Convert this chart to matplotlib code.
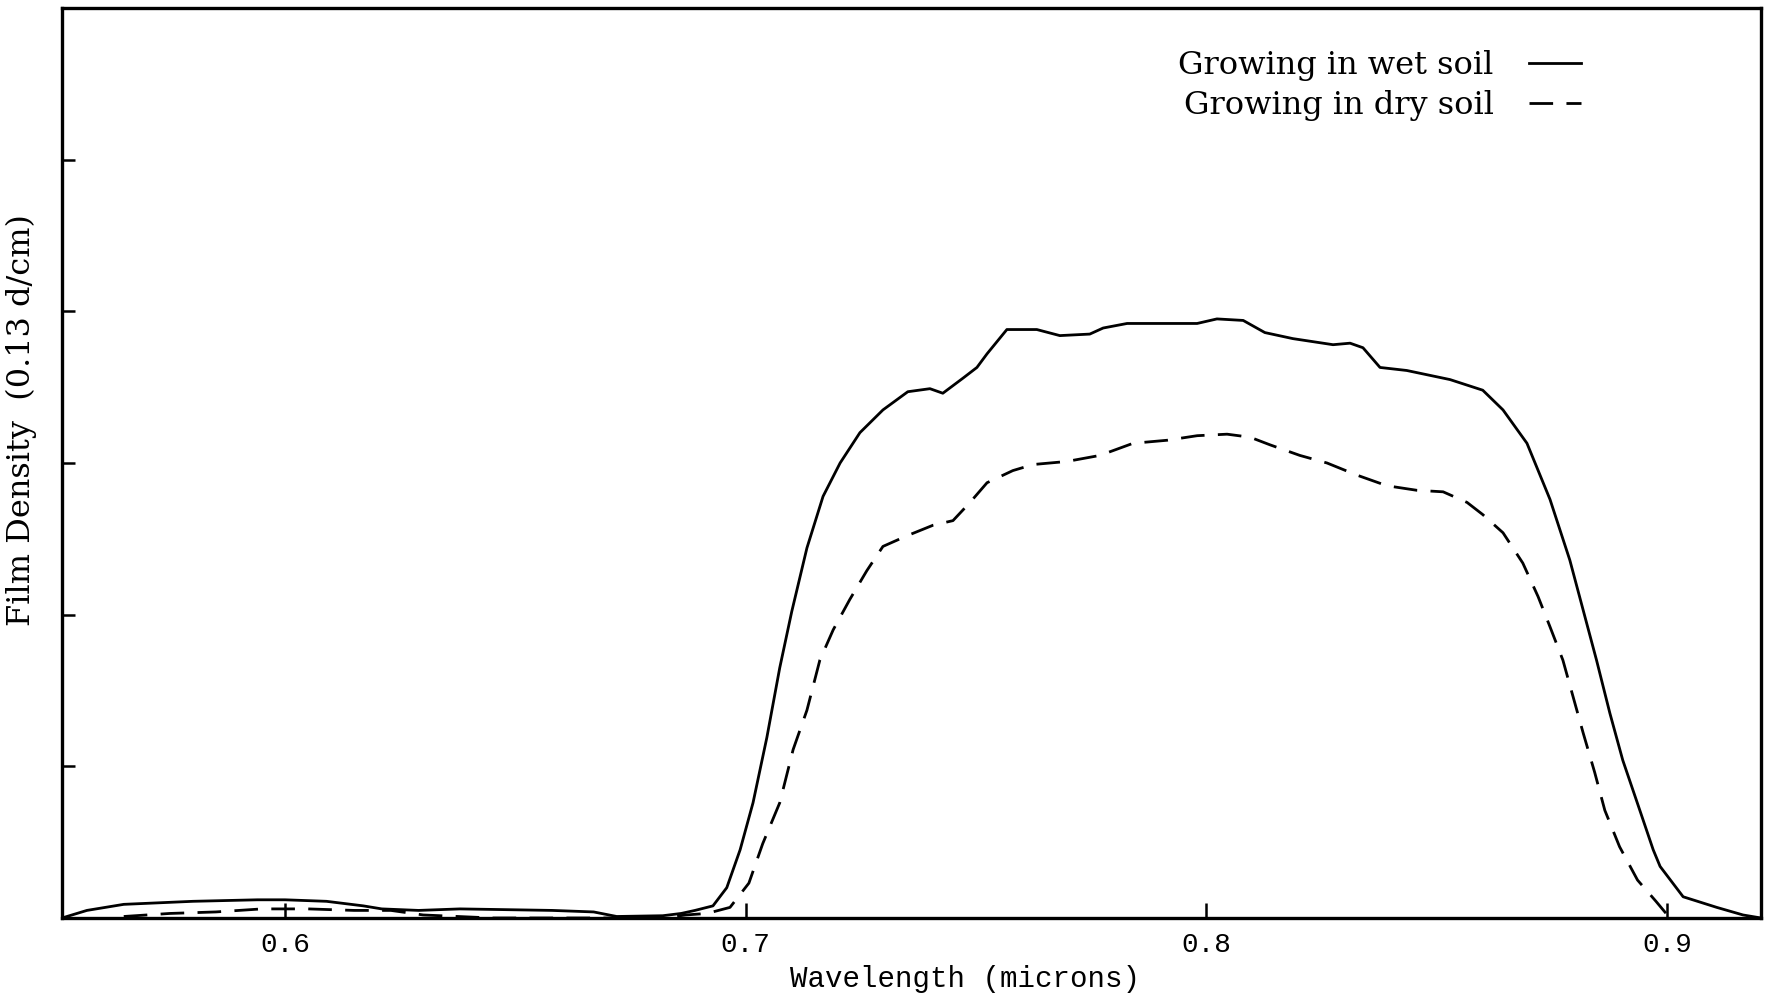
import matplotlib
matplotlib.use('Agg')
import matplotlib.pyplot as plt

# wavelength (microns) and film density
wet_wl = [0.5516, 0.5570, 0.5650, 0.5800, 0.5940, 0.6000, 0.6090, 0.6170, 0.6210,
          0.6290, 0.6380, 0.6480, 0.6580, 0.6670, 0.6720, 0.6820, 0.6860, 0.6890,
          0.6929, 0.6959, 0.6988, 0.7016, 0.7046, 0.7074, 0.7100, 0.7133, 0.7168,
          0.7205, 0.7248, 0.7298, 0.7352, 0.7400, 0.7428, 0.7472, 0.7502, 0.7524,
          0.7567, 0.7632, 0.7682, 0.7747, 0.7776, 0.7828, 0.7980, 0.8023, 0.8080,
          0.8127, 0.8188, 0.8275, 0.8312, 0.8340, 0.8377, 0.8435, 0.8529, 0.8600,
          0.8644, 0.8696, 0.8746, 0.8789, 0.8818, 0.8847, 0.8876, 0.8904, 0.8941,
          0.8970, 0.8985, 0.9035, 0.9108, 0.9165, 0.9204]
wet_density = [0.00, 0.05, 0.09, 0.11, 0.12, 0.12, 0.11, 0.08, 0.06,
               0.05, 0.06, 0.055, 0.05, 0.04, 0.01, 0.015, 0.03, 0.05,
               0.08, 0.20, 0.45, 0.76, 1.19, 1.65, 2.02, 2.44, 2.78,
               3.00, 3.20, 3.35, 3.47, 3.49, 3.46, 3.56, 3.63, 3.72,
               3.88, 3.88, 3.84, 3.85, 3.89, 3.92, 3.92, 3.95, 3.94,
               3.86, 3.82, 3.78, 3.79, 3.76, 3.63, 3.61, 3.55, 3.48,
               3.35, 3.13, 2.76, 2.36, 2.03, 1.70, 1.35, 1.04, 0.71,
               0.45, 0.34, 0.14, 0.07, 0.02, 0.00]

dry_wl = [0.5650, 0.5750, 0.5850, 0.5950, 0.6050, 0.6150, 0.6230, 0.6300, 0.6450,
          0.6700, 0.6820, 0.6870, 0.6916, 0.6966, 0.7007, 0.7037, 0.7074, 0.7103,
          0.7133, 0.7161, 0.7190, 0.7226, 0.7263, 0.7298, 0.7350, 0.7407, 0.7450,
          0.7487, 0.7524, 0.7580, 0.7624, 0.7697, 0.7769, 0.7841, 0.7915, 0.7980,
          0.8045, 0.8095, 0.8138, 0.8203, 0.8262, 0.8327, 0.8392, 0.8457, 0.8514,
          0.8566, 0.8600, 0.8644, 0.8687, 0.8720, 0.8746, 0.8774, 0.8796, 0.8818,
          0.8843, 0.8865, 0.8897, 0.8936, 0.8976, 0.8998]
dry_density = [0.01, 0.03, 0.04, 0.06, 0.06, 0.05, 0.05, 0.02, 0.00,
               0.00, 0.00, 0.02, 0.03, 0.07, 0.23, 0.49, 0.76, 1.11,
               1.37, 1.70, 1.90, 2.10, 2.29, 2.45, 2.52, 2.59, 2.62,
               2.74, 2.87, 2.95, 2.99, 3.01, 3.05, 3.13, 3.15, 3.18,
               3.19, 3.17, 3.12, 3.05, 3.00, 2.92, 2.85, 2.82, 2.81,
               2.74, 2.66, 2.54, 2.34, 2.12, 1.92, 1.70, 1.46, 1.22,
               0.96, 0.71, 0.47, 0.25, 0.11, 0.03]

x_ticks = [0.6, 0.7, 0.8, 0.9]
x_tick_labels = ['0.6', '0.7', '0.8', '0.9']
y_ticks = [1, 2, 3, 4, 5]

fig = plt.figure(figsize=(17.67, 10), dpi=100)
ax = fig.add_axes([0.0351, 0.082, 0.9615, 0.910])

ax.plot(wet_wl, wet_density, color='black', linewidth=2.0,
        label='Growing in wet soil')
ax.plot(dry_wl, dry_density, color='black', linewidth=2.0,
        dashes=(8.5, 4.8), label='Growing in dry soil')

ax.set_xlim(0.5516, 0.9204)
ax.set_ylim(0, 6)

for side in ax.spines.values():
    side.set_linewidth(2.4)

ax.set_xticks(x_ticks)
ax.set_xticklabels(x_tick_labels, family='Liberation Mono', fontsize=20)
ax.tick_params(axis='x', direction='in', length=11, width=1.8, pad=10)
ax.set_yticks(y_ticks)
ax.set_yticklabels([])
ax.tick_params(axis='y', direction='in', length=9, width=1.8)

ax.set_xlabel('Wavelength (microns)', family='Liberation Mono', fontsize=21)
ax.xaxis.set_label_coords(0.5315, -0.0516)
ax.set_ylabel('Film Density  (0.13 d/cm)', family='DejaVu Serif', fontsize=23)
ax.yaxis.set_label_coords(-0.0147, 0.547)

ax.legend(loc='upper right', bbox_to_anchor=(0.894, 0.954), frameon=False,
          markerfirst=False, prop={'family': 'DejaVu Serif', 'size': 23},
          handlelength=1.63, handletextpad=1.1, labelspacing=0.28,
          borderpad=0, borderaxespad=0)

fig.savefig('out.png', dpi=100)
